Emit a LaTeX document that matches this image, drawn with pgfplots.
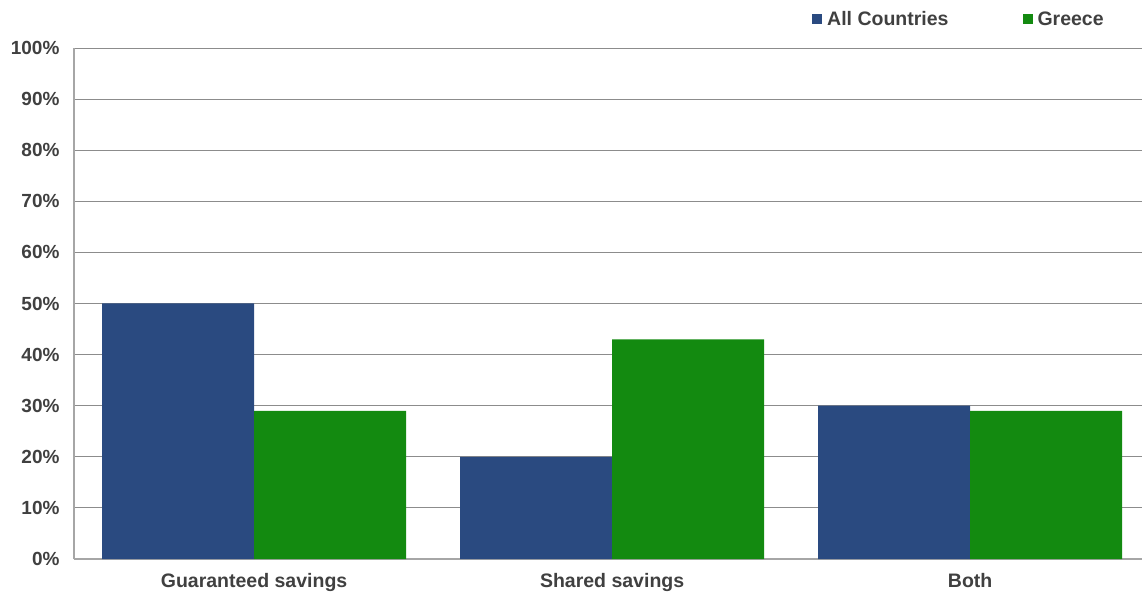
\documentclass[border=0pt]{standalone}
\usepackage{pgfplots}
\pgfplotsset{compat=1.18}
\usepackage{fontspec}
\setmainfont{Liberation Sans}
\definecolor{cblue}{HTML}{2A4A80}
\definecolor{cgreen}{HTML}{138A10}
\definecolor{ctext}{HTML}{404040}
\definecolor{cgrid}{HTML}{8C8C8C}
\definecolor{caxis}{HTML}{A6A6A6}
\begin{document}
\begin{tikzpicture}[x=1pt,y=1pt]
\path[use as bounding box] (0,0) rectangle (1142,594);
\begin{axis}[
  at={(74pt,35pt)}, anchor=south west,
  scale only axis, width=1068pt, height=511pt,
  ybar=0pt, bar width=152pt,
  xmin=-0.503, xmax=2.480, ymin=0, ymax=100,
  xtick=data, xticklabels={Guaranteed savings,Shared savings,Both},
  ytick={0,10,...,100},
  yticklabel={\pgfmathprintnumber{\tick}\%},
  /pgf/number format/assume math mode=true,
  major tick length=0pt,
  axis x line*=bottom, axis y line*=left,
  axis line style={draw=caxis, line width=1.2pt, -},
  ymajorgrids, grid style={draw=cgrid, line width=0.9pt},
  tick label style={font=\fontsize{19}{22}\selectfont\bfseries, text=ctext},
  xticklabel style={font=\fontsize{19.5}{22}\selectfont\bfseries, yshift=-11pt},
  yticklabel style={xshift=-11pt},
  legend columns=2,
  legend style={draw=none, fill=none, at={(rel axis cs:0.691,1.0567)}, anchor=west,
    font=\fontsize{19.5}{22}\selectfont\bfseries, text=ctext,
    /tikz/every even column/.append style={column sep=72pt}, inner sep=0pt},
  legend image code/.code={\fill[#1] (0pt,-5pt) rectangle (10pt,5pt); \path (13pt,0pt);},
  every axis plot/.append style={draw=none},
]
\addplot[fill=cblue] coordinates {(0,50) (1,20) (2,30)};
\addplot[fill=cgreen] coordinates {(0,29) (1,43) (2,29)};
\legend{All Countries,Greece}
\end{axis}
\end{tikzpicture}
\end{document}
